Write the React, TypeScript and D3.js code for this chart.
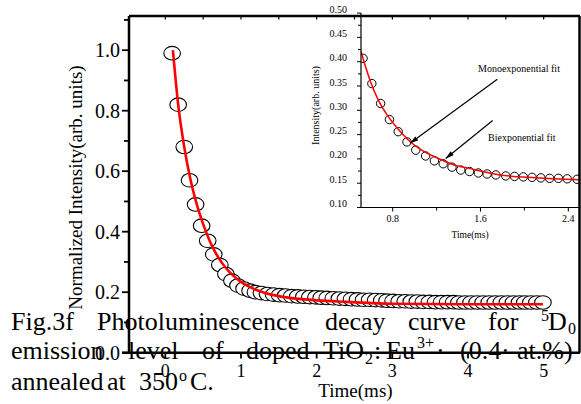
import React from 'react';
import * as d3 from 'd3';

// ---------- data ----------
const mainTimes = [
  0.09, 0.17, 0.25, 0.32, 0.40, 0.48, 0.56, 0.64, 0.72, 0.80,
  0.88, 0.96, 1.04, 1.12, 1.19, 1.27, 1.35, 1.43, 1.51, 1.59,
  1.67, 1.75, 1.83, 1.91, 1.99, 2.06, 2.14, 2.22, 2.30, 2.38,
  2.46, 2.54, 2.62, 2.70, 2.78, 2.86, 2.93, 3.01, 3.09, 3.17,
  3.25, 3.33, 3.41, 3.49, 3.57, 3.65, 3.73, 3.81, 3.88, 3.96,
  4.04, 4.12, 4.20, 4.28, 4.36, 4.44, 4.52, 4.60, 4.68, 4.75,
  4.83, 4.91, 4.99,
];
const mainValues = [
  0.99, 0.82, 0.68, 0.57, 0.49, 0.42, 0.37, 0.325, 0.29, 0.26,
  0.238, 0.222, 0.212, 0.205, 0.200, 0.197, 0.194, 0.192, 0.190, 0.189,
  0.187, 0.186, 0.185, 0.184, 0.183, 0.182, 0.181, 0.180, 0.179, 0.178,
  0.177, 0.176, 0.175, 0.175, 0.174, 0.173, 0.172, 0.171, 0.170, 0.170,
  0.169, 0.169, 0.168, 0.168, 0.167, 0.167, 0.167, 0.167, 0.166, 0.166,
  0.166, 0.166, 0.166, 0.166, 0.166, 0.166, 0.166, 0.166, 0.166, 0.166,
  0.166, 0.166, 0.166,
];
const mainFitTimes = [0.10, 0.17, 0.25, 0.33, 0.41, 0.50, 0.60, 0.70, 0.80, 0.90, 1.00, 1.10, 1.25, 1.40, 1.60, 1.80, 2.00, 2.40, 3.00, 4.00, 4.99];
const mainFitValues = [1.00, 0.82, 0.68, 0.575, 0.495, 0.425, 0.362, 0.315, 0.28, 0.254, 0.234, 0.219, 0.203, 0.192, 0.183, 0.177, 0.173, 0.168, 0.162, 0.160, 0.160];

const insetTimes = [
  0.53, 0.61, 0.69, 0.77, 0.85, 0.93, 1.01, 1.10, 1.18, 1.26,
  1.34, 1.42, 1.50, 1.58, 1.66, 1.74, 1.83, 1.91, 1.99, 2.07,
  2.15, 2.23, 2.31, 2.39, 2.48,
];
const insetValues = [
  0.407, 0.355, 0.314, 0.281, 0.256, 0.235, 0.218, 0.206, 0.196, 0.190,
  0.183, 0.177, 0.174, 0.171, 0.169, 0.167, 0.165, 0.164, 0.163, 0.162,
  0.161, 0.160, 0.160, 0.159, 0.158,
];
const insetFitTimes = [0.511, 0.593, 0.669, 0.760, 0.851, 0.942, 1.064, 1.215, 1.367, 1.488, 1.777, 2.10, 2.50];
const insetFitValues = [0.421, 0.362, 0.321, 0.287, 0.261, 0.239, 0.218, 0.201, 0.187, 0.181, 0.167, 0.161, 0.157];

const mainXTicks = [0, 1, 2, 3, 4, 5];
const mainTopTicks = [0, 0.5, 1, 1.5, 2, 2.5, 3, 3.5, 4, 4.5, 5];
const mainYTicks = [0.0, 0.2, 0.4, 0.6, 0.8, 1.0];
const mainYMinor = [0.1, 0.3, 0.5, 0.7, 0.9, 1.1];
const insetXTicks = [0.8, 1.6, 2.4];
const insetXMinor = [1.2, 2.0];
const insetYTicks = [0.10, 0.15, 0.20, 0.25, 0.30, 0.35, 0.40, 0.45, 0.50];
const insetYMinor = [0.125, 0.175, 0.225, 0.275, 0.325, 0.375, 0.425, 0.475];

// annotation arrows in inset data coordinates: [t0, v0, t1, v1]
const monoArrow = [1.753, 0.364, 0.958, 0.232];
const biArrow = [1.711, 0.279, 1.283, 0.201];

const FONT = "'Liberation Serif','Times New Roman',Times,serif";

export default function App() {
  const xMain = d3.scaleLinear().domain([-0.48, 5.48]).range([129, 580]);
  const yMain = d3.scaleLinear().domain([0, 1.113]).range([352.7, 16]);
  const xIn = d3.scaleLinear().domain([0.8, 2.4]).range([392.7, 568.3]);
  const yIn = d3.scaleLinear().domain([0.1, 0.5]).range([207.5, 13.1]);

  const mainLine = d3.line<number>()
    .x((_, i) => xMain(mainFitTimes[i]))
    .y((d) => yMain(d))
    .curve(d3.curveMonotoneX);
  const insetLine = d3.line<number>()
    .x((_, i) => xIn(insetFitTimes[i]))
    .y((d) => yIn(d))
    .curve(d3.curveMonotoneX);

  const inL = 361, inR = 579, inT = 15, inB = 207.5;

  const capSize = 26;
  const smallSize = 16;

  return (
    <svg width={581} height={404} style={{ position: 'absolute', left: 0, top: 0, background: '#fff' }}
      fontFamily={FONT}>
      <defs>
        <clipPath id="insetClip">
          <rect x={inL} y={inT} width={inR - inL} height={inB - inT} />
        </clipPath>
        <marker id="arrowHead" viewBox="0 0 10 6" refX={10} refY={3} markerWidth={9} markerHeight={5}
          markerUnits="userSpaceOnUse" orient="auto">
          <path d="M0,0 L10,3 L0,6 Z" fill="#000" />
        </marker>
      </defs>
      <rect x={0} y={0} width={581} height={404} fill="#fff" />

      {/* main data */}
      <g>
        {mainValues.map((v, i) => (
          <ellipse key={i} cx={xMain(mainTimes[i])} cy={yMain(v)} rx={8.3} ry={6.8}
            fill="#fff" stroke="#000" strokeWidth={1.1} />
        ))}
        <path d={mainLine(mainFitValues) || ''} fill="none" stroke="#ff0000" strokeWidth={2.6} />
      </g>

      {/* inset */}
      <g>
        <rect x={inL} y={inT} width={inR - inL} height={inB - inT} fill="#fff" />
        <g clipPath="url(#insetClip)">
          {insetValues.map((v, i) => (
            <circle key={i} cx={xIn(insetTimes[i])} cy={yIn(v)} r={4.2}
              fill="#fff" stroke="#000" strokeWidth={1} />
          ))}
          <path d={insetLine(insetFitValues) || ''} fill="none" stroke="#ff0000" strokeWidth={1.5} />
        </g>
        <line x1={inL} x2={inL} y1={13} y2={inB} stroke="#000" strokeWidth={1.2} />
        <line x1={inL} x2={inR} y1={inB} y2={inB} stroke="#000" strokeWidth={1.2} />
        {insetYTicks.map((t) => (
          <g key={'iy' + t}>
            <line x1={inL - 4} x2={inL} y1={yIn(t)} y2={yIn(t)} stroke="#000" strokeWidth={1} />
            <text x={347} y={yIn(t) - 4} dy="0.35em" fontSize={10} textAnchor="end">{t.toFixed(2)}</text>
          </g>
        ))}
        {insetYMinor.map((t) => (
          <line key={'iym' + t} x1={inL - 3} x2={inL} y1={yIn(t)} y2={yIn(t)} stroke="#000" strokeWidth={1} />
        ))}
        {insetXTicks.map((t) => (
          <g key={'ix' + t}>
            <line x1={xIn(t)} x2={xIn(t)} y1={inB} y2={inB + 4} stroke="#000" strokeWidth={1} />
            <text x={xIn(t)} y={221.5} fontSize={10} textAnchor="middle">{t.toFixed(1)}</text>
          </g>
        ))}
        {insetXMinor.map((t) => (
          <line key={'ixm' + t} x1={xIn(t)} x2={xIn(t)} y1={inB} y2={inB + 3} stroke="#000" strokeWidth={1} />
        ))}
        <text x={470} y={238} fontSize={9.5} textAnchor="middle">Time(ms)</text>
        <text transform="translate(318.5,105.5) rotate(-90)" fontSize={10} textAnchor="middle">Intensity(arb. units)</text>

        <line x1={xIn(monoArrow[0])} y1={yIn(monoArrow[1])} x2={xIn(monoArrow[2])} y2={yIn(monoArrow[3])}
          stroke="#000" strokeWidth={1.2} markerEnd="url(#arrowHead)" />
        <line x1={xIn(biArrow[0])} y1={yIn(biArrow[1])} x2={xIn(biArrow[2])} y2={yIn(biArrow[3])}
          stroke="#000" strokeWidth={1.2} markerEnd="url(#arrowHead)" />
        <text x={478} y={72} fontSize={10}>Monoexponential fit</text>
        <text x={488} y={141} fontSize={10}>Biexponential fit</text>
      </g>

      {/* main frame and axes */}
      <g stroke="#000" strokeWidth={2.5} fill="none">
        <line x1={129} x2={580} y1={16} y2={16} />
        <line x1={579.5} x2={579.5} y1={16} y2={352.7} />
        <line x1={129} x2={129} y1={16} y2={352.7} />
        <line x1={122} x2={580} y1={352.7} y2={352.7} />
      </g>
      {mainTopTicks.map((t) => (
        <line key={'tt' + t} x1={xMain(t)} x2={xMain(t)} y1={16} y2={19.5} stroke="#000" strokeWidth={1.2} />
      ))}
      {mainYTicks.map((t) => (
        <g key={'my' + t}>
          <line x1={122} x2={129} y1={yMain(t)} y2={yMain(t)} stroke="#000" strokeWidth={1.8} />
          <text x={120} y={yMain(t)} dy="0.35em" fontSize={20} textAnchor="end">{t.toFixed(1)}</text>
        </g>
      ))}
      {mainYMinor.map((t) => (
        <line key={'mym' + t} x1={124} x2={129} y1={yMain(t)} y2={yMain(t)} stroke="#000" strokeWidth={1.8} />
      ))}
      {mainXTicks.map((t) => (
        <g key={'mx' + t}>
          <line x1={xMain(t)} x2={xMain(t)} y1={352.7} y2={358.5} stroke="#000" strokeWidth={1.8} />
          <text x={xMain(t)} y={376.5} fontSize={18} textAnchor="middle">{t}</text>
        </g>
      ))}
      <text x={355.5} y={397} fontSize={19} textAnchor="middle">Time(ms)</text>
      <text transform="translate(81.5,187.5) rotate(-90)" fontSize={19} textAnchor="middle">Normalized Intensity(arb. units)</text>

      {/* caption */}
      <g fontSize={capSize} fill="#000">
        <text x={11} y={329.5}>Fig.3f</text>
        <text x={97} y={329.5}>Photoluminescence</text>
        <text x={325} y={329.5}>decay</text>
        <text x={408} y={329.5}>curve</text>
        <text x={488} y={329.5}>for</text>
        <text x={541} y={321} fontSize={smallSize}>5</text>
        <text x={548} y={329.5}>D</text>
        <text x={568} y={334} fontSize={smallSize}>0</text>

        <text x={11} y={359}>emission</text>
        <text x={128} y={359}>level</text>
        <text x={202} y={359}>of</text>
        <text x={246} y={359}>doped</text>
        <text x={323} y={359}>TiO</text>
        <text x={365} y={364} fontSize={smallSize}>2</text>
        <text x={374} y={359}>:</text>
        <text x={386} y={359}>Eu</text>
        <text x={417} y={348} fontSize={smallSize}>3+</text>
        <text x={436} y={359}>·</text>
        <text x={460} y={359}>(0.4</text>
        <text x={501} y={359}>·</text>
        <text x={517} y={359}>at.%)</text>

        <text x={11} y={390}>annealed</text>
        <text x={107} y={390}>at</text>
        <text x={139} y={390}>350</text>
        <text x={179} y={381} fontSize={smallSize}>o</text>
        <text x={190} y={390}>C.</text>
      </g>
    </svg>
  );
}
